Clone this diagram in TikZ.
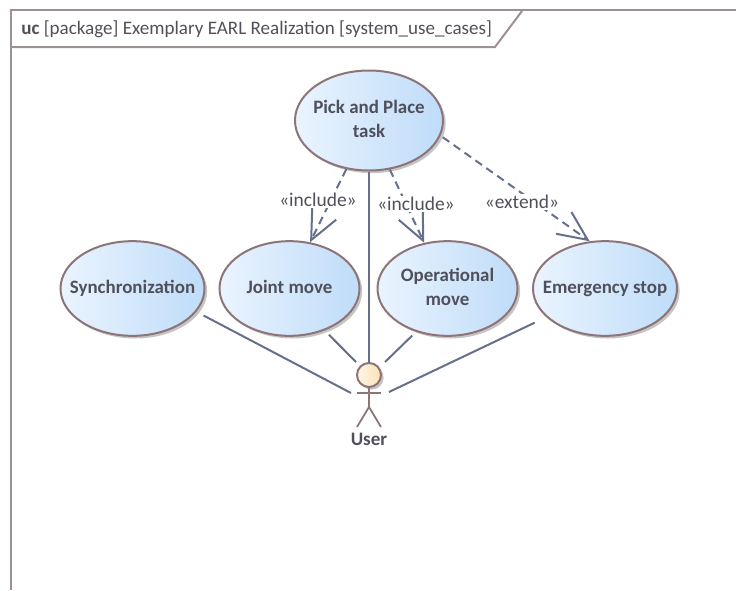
\documentclass[tikz,border=0pt]{standalone}
\usepackage{fontspec}
\setmainfont{Carlito}
\usepackage{xcolor}
\usetikzlibrary{calc, positioning, arrows.meta, shapes.geometric, shadows}
\definecolor{framecol}{HTML}{9E9092}
\definecolor{bordercol}{HTML}{8C7477}
\definecolor{linkcol}{HTML}{666F8C}
\definecolor{textcol}{HTML}{50505C}
\definecolor{caseleft}{HTML}{EAF4FE}
\definecolor{caseright}{HTML}{BFDCF9}
\definecolor{headleft}{HTML}{FFF6E6}
\definecolor{headright}{HTML}{FCE0B4}
\newcommand{\uctext}[2][-0.8pt]{\raisebox{#1}{\makebox[0pt]{\begin{tabular}{@{}c@{}}#2\end{tabular}}}}
\tikzset{
    usecase/.style={ellipse, draw=bordercol, line width=1.5pt, left color=caseleft, right color=caseright,
        minimum width=105pt, minimum height=71pt, inner sep=0pt, text=textcol,
        font=\fontsize{14.2}{18}\selectfont\bfseries,
        drop shadow={shadow xshift=2pt, shadow yshift=-2pt, fill=black!45, opacity=0.5}},
    link/.style={draw=linkcol, line width=1.5pt},
    extlink/.style={link, dash pattern=on 6pt off 4pt, -{Straight Barb[length=22pt, width=20pt, line width=1.5pt]}},
    stereo/.style={fill=white, inner sep=1pt, text=textcol, font=\fontsize{14.6}{16}\selectfont},
    actorline/.style={draw=bordercol, line width=1.3pt}
}
\begin{document}
\begin{tikzpicture}[x=0.75pt, y=-0.75pt]
    \useasboundingbox (0,0) rectangle (736,590);
    % frame
    \draw [framecol, line width=2.2pt] (11,590) -- (11,10) -- (736,10);
    \draw [framecol, line width=1.5pt] (11,47) -- (495,47) -- (522,11);
    \node [anchor=west, inner sep=0pt, text=textcol, font=\fontsize{14.3}{16}\selectfont] (title) at (21,29)
        {\textbf{uc} [package] Exemplary EARL Realization [system\_use\_cases]};
    % use cases
    \node [usecase, minimum width=111pt, minimum height=75pt] (pick) at (369,120.5) {\uctext[-2.4pt]{Pick and Place\\task}};
    \foreach \n/\x/\w/\t in {sync/132.5/108/Synchronization, joint/289.5/105/Joint move, oper/447.5/105/{Operational\\move}, stop/605/108/Emergency stop} {
        \node [usecase, minimum width=\w pt] (\n) at (\x,288.5) {\uctext{\t}};
    }
    % actor
    \node [circle, draw=bordercol, line width=1.5pt, left color=headleft, right color=headright, minimum size=18pt, inner sep=0pt,
        drop shadow={shadow xshift=2pt, shadow yshift=-2pt, fill=black!45, opacity=0.5}] (user) at (369,375) {};
    \coordinate (hip) at (369,407);
    \draw [actorline] (user.south) -- (hip);
    \draw [actorline] (357,393) -- (381,393);
    \draw [actorline] (357,427) -- (hip) -- (381,427);
    \node [text=textcol, inner sep=0pt, font=\fontsize{14.3}{16}\selectfont\bfseries] (userlabel) at (369,439) {User};
    % associations
    \coordinate (userW) at (351,393);
    \coordinate (userNW) at (356,362);
    \coordinate (userN) at (369,363);
    \coordinate (userNE) at (385,362);
    \coordinate (userE) at (389,392);
    \draw [link, shorten <=6pt] (sync.-20) -- (userW);
    \draw [link, shorten <=4.5pt] (joint.-50) -- (userNW);
    \draw [link] (pick.south) -- (userN);
    \draw [link, shorten <=4pt] (oper.-126) -- (userNE);
    \draw [link, shorten <=9.5pt] (stop.-154) -- (userE);
    % include and extend
    \draw [extlink] (pick.-115) -- (joint.66);
    \draw [extlink] (pick.-67) -- (oper.117);
    \draw [extlink, shorten <=2pt] (pick.-12) -- (stop.108);
    \node [stereo] (inc1) at (318,200) {«include»};
    \node [stereo] (inc2) at (416,204) {«include»};
    \node [stereo] (ext) at (522,202) {«extend»};
\end{tikzpicture}
\end{document}
